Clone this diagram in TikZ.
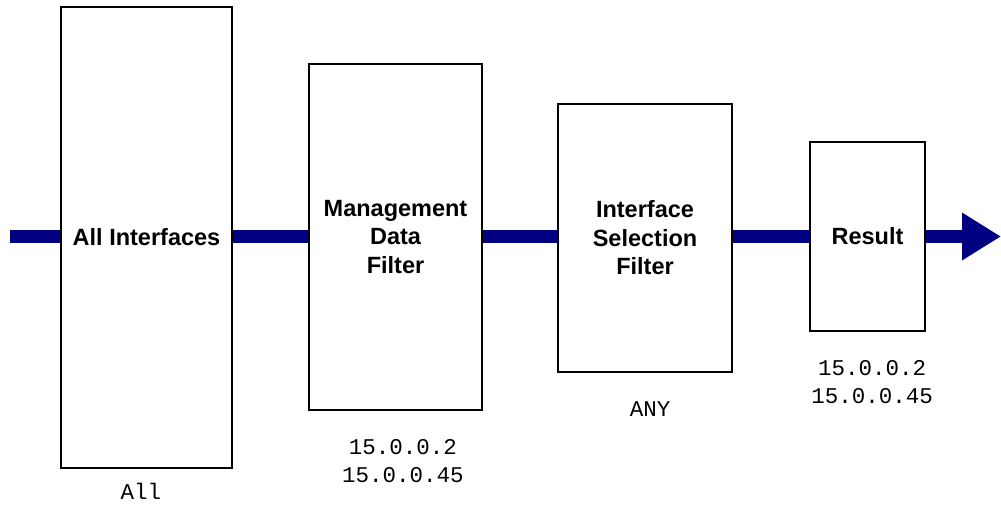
\documentclass[tikz,border=0pt]{standalone}
\usepackage{fontspec}
\setmainfont{Liberation Sans}
\setmonofont{Liberation Mono}
\usetikzlibrary{arrows.meta}
\definecolor{flowblue}{HTML}{000080}
\begin{document}
\begin{tikzpicture}[x=1pt,y=-1pt,
  stage/.style={draw=black,line width=1.4pt,fill=white,inner sep=0pt,
    align=center,font=\fontsize{23.5}{28.5}\selectfont\bfseries},
  addr/.style={inner sep=0pt,align=center,font=\fontsize{22.5}{28}\selectfont\ttfamily},
  flow/.style={draw=flowblue,line width=13pt}]
\useasboundingbox (0,0) rectangle (1001,504);

% filter stages
\node[stage,minimum width=171pt,minimum height=461pt] (all) at (146.5,237.5) {All Interfaces};
\node[stage,minimum width=173pt,minimum height=346pt] (mgmt) at (395.5,237) {Management\\Data\\Filter};
\node[stage,minimum width=174pt,minimum height=268pt] (sel) at (645,238) {Interface\\Selection\\Filter};
\node[stage,minimum width=115pt,minimum height=189pt] (res) at (867.5,236.5) {Result};

% flow ends
\coordinate (in) at (10,236.5);
\coordinate (out) at (1001,236.5);

% flow between the stages
\draw[flow] (in) -- (in -| all.west);
\draw[flow] (all.east |- in) -- (mgmt.west |- in);
\draw[flow] (mgmt.east |- in) -- (sel.west |- in);
\draw[flow] (sel.east |- in) -- (res.west |- in);
\draw[flow,-{Triangle[length=39pt,width=45pt]}] (res.east |- in) -- (out);

% addresses passed by each stage
\node[addr] (lall) at (141,491) {All};
\node[addr] (lmgmt) at (403,461) {15.0.0.2\\15.0.0.45};
\node[addr] (lsel) at (650,409) {ANY};
\node[addr] (lres) at (872,382) {15.0.0.2\\15.0.0.45};
\end{tikzpicture}
\end{document}
